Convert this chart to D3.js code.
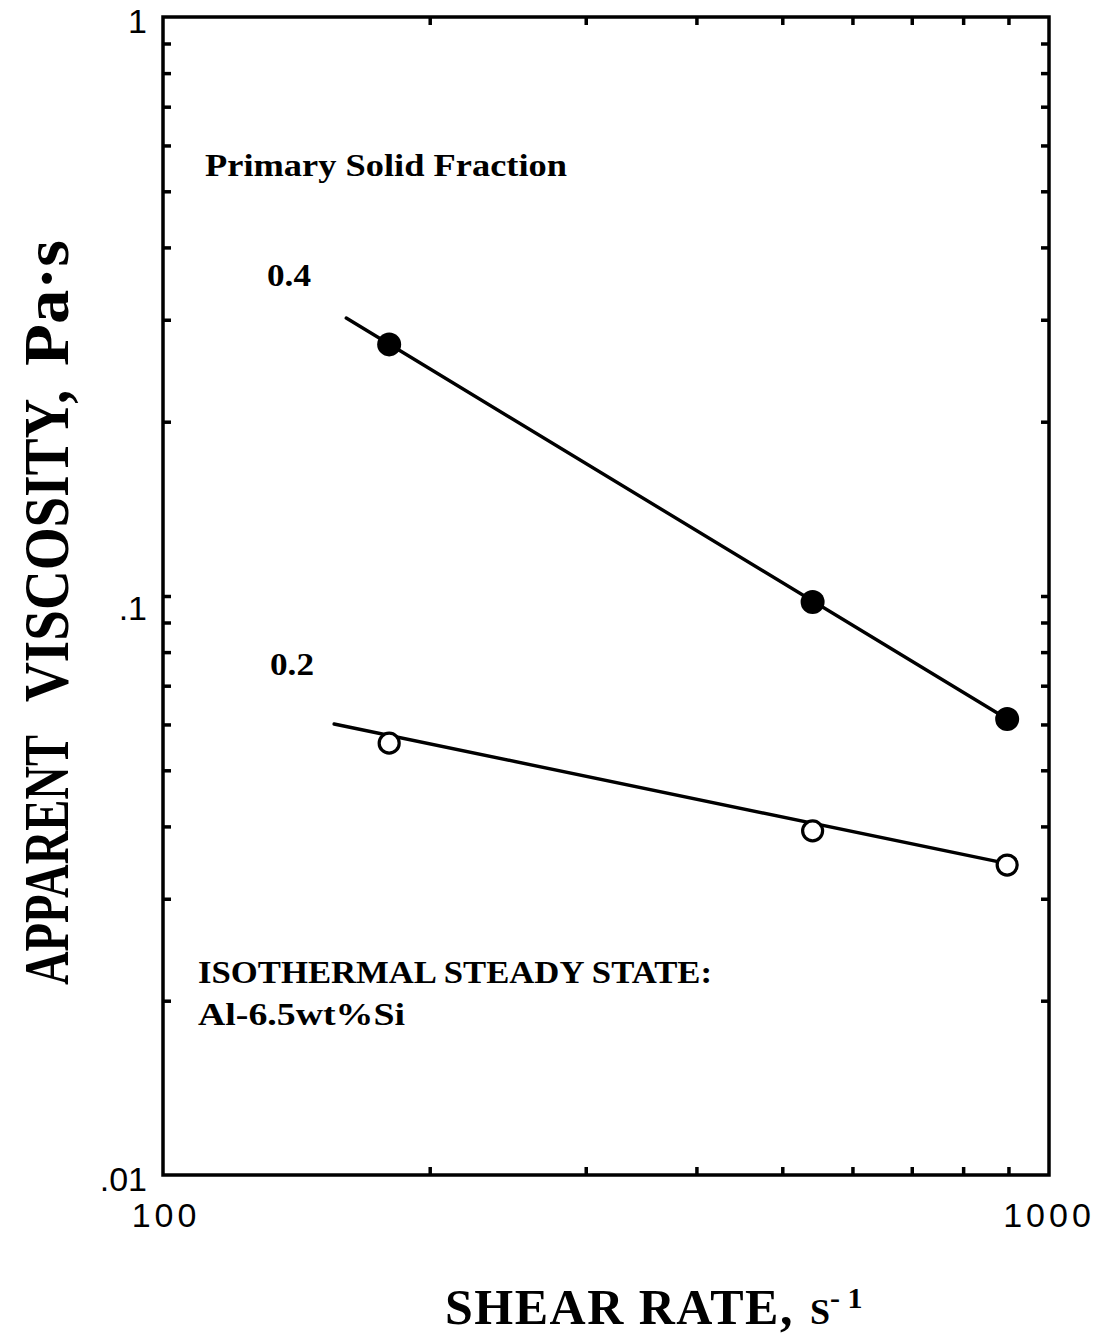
<!DOCTYPE html>
<html>
<head>
<meta charset="utf-8">
<script src="https://cdn.jsdelivr.net/npm/d3@7"></script>
<style>
  html, body { margin: 0; padding: 0; background: #fff; }
  svg { display: block; }
</style>
</head>
<body>
<svg id="chart" width="1109" height="1343"></svg>
<script>
// Measured shear rates (s^-1) and apparent viscosities (Pa·s)
const shearRate = [180, 541, 897];
const visc04 = [0.272, 0.0976, 0.0613];   // primary solid fraction 0.4
const visc02 = [0.0557, 0.0393, 0.0343];  // primary solid fraction 0.2

// Fitted power-law lines: end points [shear rate, viscosity]
const fit04 = [[161, 0.302], [897, 0.0613]];
const fit02 = [[156, 0.0601], [881, 0.0347]];

// Axis tick labels
const xTickValues = [100, 1000];
const xTickLabels = ["100", "1000"];
const yTickValues = [1, 0.1, 0.01];
const yTickLabels = ["1", ".1", ".01"];

const svg = d3.select("#chart");
const L = 163, R = 1049, T = 17, B = 1175;

const x = d3.scaleLog().domain([100, 1000]).range([L, R]);
const y = d3.scaleLog().domain([0.01, 1]).range([B, T]);

const serif = "'Liberation Serif', 'Times New Roman', serif";
const sans = "'Liberation Sans', Arial, Helvetica, sans-serif";

// Log ticks (2..9 per decade plus the inner decade), drawn inward on all four sides
const xMinor = [];
for (let k = 2; k <= 9; k++) xMinor.push(100 * k);
const yMinor = [0.1];
[0.01, 0.1].forEach(d => { for (let k = 2; k <= 9; k++) yMinor.push(+(d * k).toPrecision(3)); });

const tickLen = 8;
const axisG = svg.append("g").attr("stroke", "#000").attr("stroke-width", 3.5).attr("fill", "none");

axisG.append("g").call(d3.axisBottom(x).tickValues(xMinor).tickSize(-tickLen).tickFormat(""))
  .attr("transform", `translate(0,${B})`);
axisG.append("g").call(d3.axisTop(x).tickValues(xMinor).tickSize(-tickLen).tickFormat(""))
  .attr("transform", `translate(0,${T})`);
axisG.append("g").call(d3.axisLeft(y).tickValues(yMinor).tickSize(-tickLen).tickFormat(""))
  .attr("transform", `translate(${L},0)`);
axisG.append("g").call(d3.axisRight(y).tickValues(yMinor).tickSize(-tickLen).tickFormat(""))
  .attr("transform", `translate(${R},0)`);
svg.selectAll(".domain").remove();
svg.selectAll(".tick line").attr("stroke", "#000").attr("stroke-width", 3.5);

// Frame
svg.append("rect")
  .attr("x", L).attr("y", T).attr("width", R - L).attr("height", B - T)
  .attr("fill", "none").attr("stroke", "#000").attr("stroke-width", 3.5);

// Tick labels
svg.append("g").selectAll("text").data(yTickValues).join("text")
  .attr("x", 147)
  .attr("y", (d, i) => y(d) + [16, 24, 16][i])
  .attr("text-anchor", "end")
  .attr("font-family", sans).attr("font-size", 34)
  .text((d, i) => yTickLabels[i]);

svg.append("g").selectAll("text").data(xTickValues).join("text")
  .attr("x", (d, i) => x(d) + [3, 0][i])
  .attr("y", 1227)
  .attr("text-anchor", "middle")
  .attr("font-family", sans).attr("font-size", 34)
  .attr("letter-spacing", 4)
  .text((d, i) => xTickLabels[i]);

// Fit lines
const line = d3.line().x(d => x(d[0])).y(d => y(d[1]));
[fit04, fit02].forEach(f => {
  svg.append("path").attr("d", line(f))
    .attr("fill", "none").attr("stroke", "#000").attr("stroke-width", 3.4)
    .attr("stroke-linecap", "round");
});

// Data points
svg.append("g").selectAll("circle").data(shearRate).join("circle")
  .attr("cx", d => x(d)).attr("cy", (d, i) => y(visc04[i]))
  .attr("r", 12).attr("fill", "#000");

svg.append("g").selectAll("circle").data(shearRate).join("circle")
  .attr("cx", d => x(d)).attr("cy", (d, i) => y(visc02[i]))
  .attr("r", 10).attr("fill", "#fff").attr("stroke", "#000").attr("stroke-width", 3.2);

// Annotations
function note(txt, xp, yp, size, len) {
  const t = svg.append("text").attr("x", xp).attr("y", yp)
    .attr("font-family", serif).attr("font-weight", "bold").attr("font-size", size)
    .text(txt);
  if (len) t.attr("textLength", len).attr("lengthAdjust", "spacingAndGlyphs");
  return t;
}
note("Primary Solid Fraction", 205, 176, 32, 362);
note("0.4", 267, 286, 32, 44);
note("0.2", 270, 675, 32, 44);
note("ISOTHERMAL STEADY STATE:", 198, 983, 31, 514);
note("Al-6.5wt%Si", 198, 1025, 31, 207);

// Axis titles
const xt = svg.append("text").attr("x", 445).attr("y", 1324)
  .attr("font-family", serif).attr("font-weight", "bold").attr("font-size", 50);
xt.append("tspan").attr("letter-spacing", 1.5).text("SHEAR RATE,");
xt.append("tspan").attr("font-size", 36).attr("dx", 16).text("S");
xt.append("tspan").attr("font-size", 30).attr("dy", -16).text("- 1");

// Y title: three words placed along the rotated baseline
const yTitle = svg.append("g").attr("transform", "translate(68,0) rotate(-90)")
  .attr("font-family", serif).attr("font-weight", "bold").attr("font-size", 63);
yTitle.append("text").attr("x", -985).attr("textLength", 250).attr("lengthAdjust", "spacingAndGlyphs").text("APPARENT");
yTitle.append("text").attr("x", -702).attr("textLength", 312).attr("lengthAdjust", "spacingAndGlyphs").text("VISCOSITY,");
yTitle.append("text").attr("x", -366).attr("textLength", 126).attr("lengthAdjust", "spacingAndGlyphs").text("Pa·s");
</script>
</body>
</html>
